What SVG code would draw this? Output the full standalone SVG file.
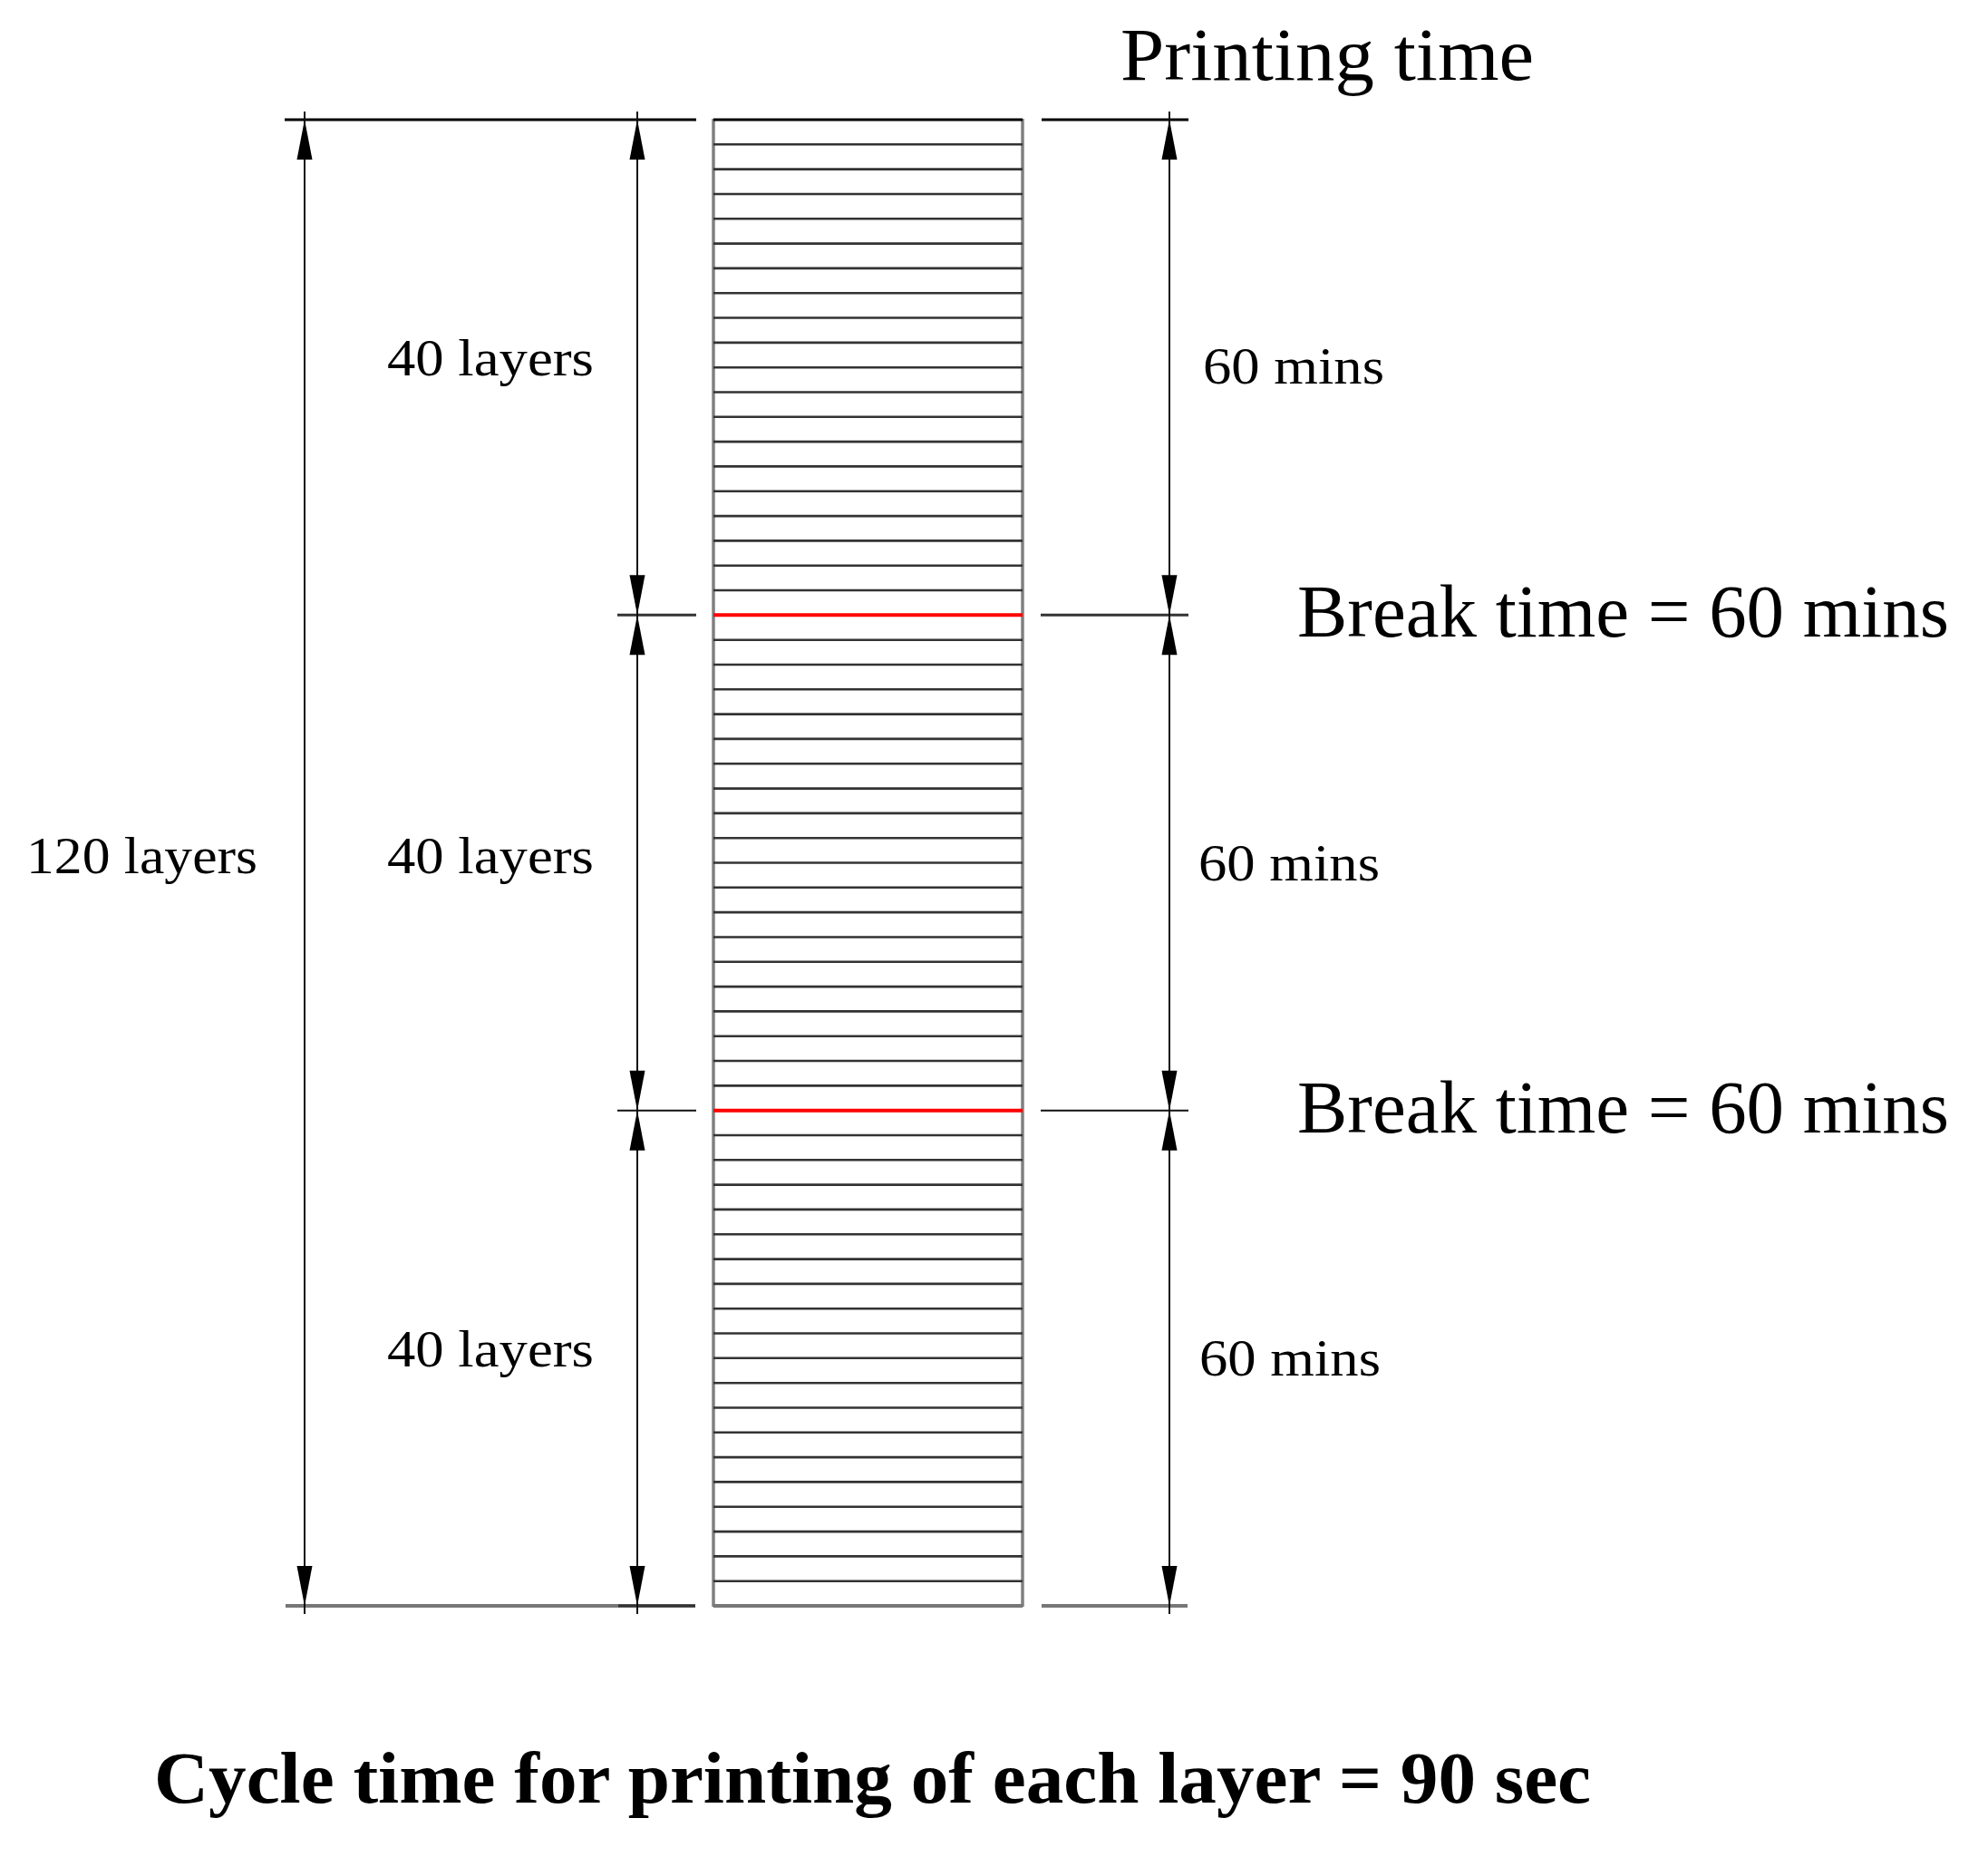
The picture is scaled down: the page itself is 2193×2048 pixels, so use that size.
<svg xmlns="http://www.w3.org/2000/svg" xmlns:xlink="http://www.w3.org/1999/xlink" width="2193" height="2048" viewBox="0 0 2193 2048">
<style>
text{font-family:"Liberation Serif","Times New Roman",serif;fill:#000}
.big{font-size:83px}
.mid{font-size:58px}
.bold{font-size:80px;font-weight:bold}
.layer{stroke:#333;stroke-width:2.6}
.brk{stroke:#ff0000;stroke-width:4}
.side{stroke:#808080;stroke-width:3.5}
.dim{stroke:#111;stroke-width:2}
.tick{stroke:#333;stroke-width:3}
.ext{stroke:#000;stroke-width:3}
.extg{stroke:#777;stroke-width:4}
</style>
<defs>
<polygon id="up" points="0,0 -8.5,44 8.5,44" fill="#000"/>
<polygon id="dn" points="0,0 -8.5,-44 8.5,-44" fill="#000"/>
</defs>
<rect width="2193" height="2048" fill="#fff"/>

<g id="column">
<line class="side" x1="787" y1="131" x2="787" y2="1772"/>
<line class="side" x1="1128" y1="131" x2="1128" y2="1772"/>
<line class="ext" x1="787" y1="132" x2="1128" y2="132"/>
<line class="extg" x1="787" y1="1771" x2="1128" y2="1771"/>
<g id="layers">
<line class="layer" x1="787" x2="1128" y1="159.3" y2="159.3"/>
<line class="layer" x1="787" x2="1128" y1="186.6" y2="186.6"/>
<line class="layer" x1="787" x2="1128" y1="214" y2="214"/>
<line class="layer" x1="787" x2="1128" y1="241.3" y2="241.3"/>
<line class="layer" x1="787" x2="1128" y1="268.6" y2="268.6"/>
<line class="layer" x1="787" x2="1128" y1="295.9" y2="295.9"/>
<line class="layer" x1="787" x2="1128" y1="323.2" y2="323.2"/>
<line class="layer" x1="787" x2="1128" y1="350.5" y2="350.5"/>
<line class="layer" x1="787" x2="1128" y1="377.9" y2="377.9"/>
<line class="layer" x1="787" x2="1128" y1="405.2" y2="405.2"/>
<line class="layer" x1="787" x2="1128" y1="432.5" y2="432.5"/>
<line class="layer" x1="787" x2="1128" y1="459.8" y2="459.8"/>
<line class="layer" x1="787" x2="1128" y1="487.1" y2="487.1"/>
<line class="layer" x1="787" x2="1128" y1="514.4" y2="514.4"/>
<line class="layer" x1="787" x2="1128" y1="541.8" y2="541.8"/>
<line class="layer" x1="787" x2="1128" y1="569.1" y2="569.1"/>
<line class="layer" x1="787" x2="1128" y1="596.4" y2="596.4"/>
<line class="layer" x1="787" x2="1128" y1="623.7" y2="623.7"/>
<line class="layer" x1="787" x2="1128" y1="651" y2="651"/>
<line class="brk" x1="787" x2="1128" y1="678.3" y2="678.3"/>
<line class="layer" x1="787" x2="1128" y1="705.7" y2="705.7"/>
<line class="layer" x1="787" x2="1128" y1="733" y2="733"/>
<line class="layer" x1="787" x2="1128" y1="760.3" y2="760.3"/>
<line class="layer" x1="787" x2="1128" y1="787.6" y2="787.6"/>
<line class="layer" x1="787" x2="1128" y1="814.9" y2="814.9"/>
<line class="layer" x1="787" x2="1128" y1="842.2" y2="842.2"/>
<line class="layer" x1="787" x2="1128" y1="869.6" y2="869.6"/>
<line class="layer" x1="787" x2="1128" y1="896.9" y2="896.9"/>
<line class="layer" x1="787" x2="1128" y1="924.2" y2="924.2"/>
<line class="layer" x1="787" x2="1128" y1="951.5" y2="951.5"/>
<line class="layer" x1="787" x2="1128" y1="978.8" y2="978.8"/>
<line class="layer" x1="787" x2="1128" y1="1006.1" y2="1006.1"/>
<line class="layer" x1="787" x2="1128" y1="1033.5" y2="1033.5"/>
<line class="layer" x1="787" x2="1128" y1="1060.8" y2="1060.8"/>
<line class="layer" x1="787" x2="1128" y1="1088.1" y2="1088.1"/>
<line class="layer" x1="787" x2="1128" y1="1115.4" y2="1115.4"/>
<line class="layer" x1="787" x2="1128" y1="1142.7" y2="1142.7"/>
<line class="layer" x1="787" x2="1128" y1="1170" y2="1170"/>
<line class="layer" x1="787" x2="1128" y1="1197.4" y2="1197.4"/>
<line class="brk" x1="787" x2="1128" y1="1224.7" y2="1224.7"/>
<line class="layer" x1="787" x2="1128" y1="1252" y2="1252"/>
<line class="layer" x1="787" x2="1128" y1="1279.3" y2="1279.3"/>
<line class="layer" x1="787" x2="1128" y1="1306.6" y2="1306.6"/>
<line class="layer" x1="787" x2="1128" y1="1333.9" y2="1333.9"/>
<line class="layer" x1="787" x2="1128" y1="1361.3" y2="1361.3"/>
<line class="layer" x1="787" x2="1128" y1="1388.6" y2="1388.6"/>
<line class="layer" x1="787" x2="1128" y1="1415.9" y2="1415.9"/>
<line class="layer" x1="787" x2="1128" y1="1443.2" y2="1443.2"/>
<line class="layer" x1="787" x2="1128" y1="1470.5" y2="1470.5"/>
<line class="layer" x1="787" x2="1128" y1="1497.8" y2="1497.8"/>
<line class="layer" x1="787" x2="1128" y1="1525.2" y2="1525.2"/>
<line class="layer" x1="787" x2="1128" y1="1552.5" y2="1552.5"/>
<line class="layer" x1="787" x2="1128" y1="1579.8" y2="1579.8"/>
<line class="layer" x1="787" x2="1128" y1="1607.1" y2="1607.1"/>
<line class="layer" x1="787" x2="1128" y1="1634.4" y2="1634.4"/>
<line class="layer" x1="787" x2="1128" y1="1661.7" y2="1661.7"/>
<line class="layer" x1="787" x2="1128" y1="1689.1" y2="1689.1"/>
<line class="layer" x1="787" x2="1128" y1="1716.4" y2="1716.4"/>
<line class="layer" x1="787" x2="1128" y1="1743.7" y2="1743.7"/>
</g>
</g>

<g id="connectors">
<line class="ext" x1="314" y1="132" x2="768" y2="132"/>
<line class="ext" x1="1149" y1="132" x2="1311" y2="132"/>
<line class="extg" x1="315" y1="1771" x2="767" y2="1771"/>
<line class="tick" x1="682" y1="1771" x2="767" y2="1771"/>
<line class="extg" x1="1149" y1="1771" x2="1310" y2="1771"/>
<line class="tick" x1="681" y1="678.3" x2="768" y2="678.3"/>
<line class="tick" x1="1148" y1="678.3" x2="1311" y2="678.3"/>
<line class="dim" x1="681" y1="1224.7" x2="768" y2="1224.7"/>
<line class="dim" x1="1148" y1="1224.7" x2="1311" y2="1224.7"/>
<line class="dim" x1="336" y1="123" x2="336" y2="1780"/>
<line class="dim" x1="703" y1="123" x2="703" y2="1780"/>
<line class="dim" x1="1290" y1="123" x2="1290" y2="1780"/>
<use xlink:href="#up" x="336" y="132"/>
<use xlink:href="#dn" x="336" y="1771"/>
<use xlink:href="#up" x="703" y="132"/>
<use xlink:href="#dn" x="703" y="678.3"/>
<use xlink:href="#up" x="703" y="678.3"/>
<use xlink:href="#dn" x="703" y="1224.7"/>
<use xlink:href="#up" x="703" y="1224.7"/>
<use xlink:href="#dn" x="703" y="1771"/>
<use xlink:href="#up" x="1290" y="132"/>
<use xlink:href="#dn" x="1290" y="678.3"/>
<use xlink:href="#up" x="1290" y="678.3"/>
<use xlink:href="#dn" x="1290" y="1224.7"/>
<use xlink:href="#up" x="1290" y="1224.7"/>
<use xlink:href="#dn" x="1290" y="1771"/>
</g>

<g id="labels">
<text class="big" x="1236" y="88" textLength="456" lengthAdjust="spacingAndGlyphs">Printing time</text>
<text class="big" x="1431" y="702" textLength="719" lengthAdjust="spacingAndGlyphs">Break time = 60 mins</text>
<text class="big" x="1431" y="1249" textLength="719" lengthAdjust="spacingAndGlyphs">Break time = 60 mins</text>
<text class="mid" x="29" y="963" textLength="255" lengthAdjust="spacingAndGlyphs">120 layers</text>
<text class="mid" x="427" y="414" textLength="228" lengthAdjust="spacingAndGlyphs">40 layers</text>
<text class="mid" x="427" y="963" textLength="228" lengthAdjust="spacingAndGlyphs">40 layers</text>
<text class="mid" x="427" y="1507" textLength="228" lengthAdjust="spacingAndGlyphs">40 layers</text>
<text class="mid" x="1327" y="423" textLength="200" lengthAdjust="spacingAndGlyphs">60 mins</text>
<text class="mid" x="1322" y="971" textLength="200" lengthAdjust="spacingAndGlyphs">60 mins</text>
<text class="mid" x="1323" y="1517" textLength="200" lengthAdjust="spacingAndGlyphs">60 mins</text>
<text class="bold" x="170" y="1988" textLength="1585" lengthAdjust="spacingAndGlyphs">Cycle time for printing of each layer = 90 sec</text>
</g>
</svg>
